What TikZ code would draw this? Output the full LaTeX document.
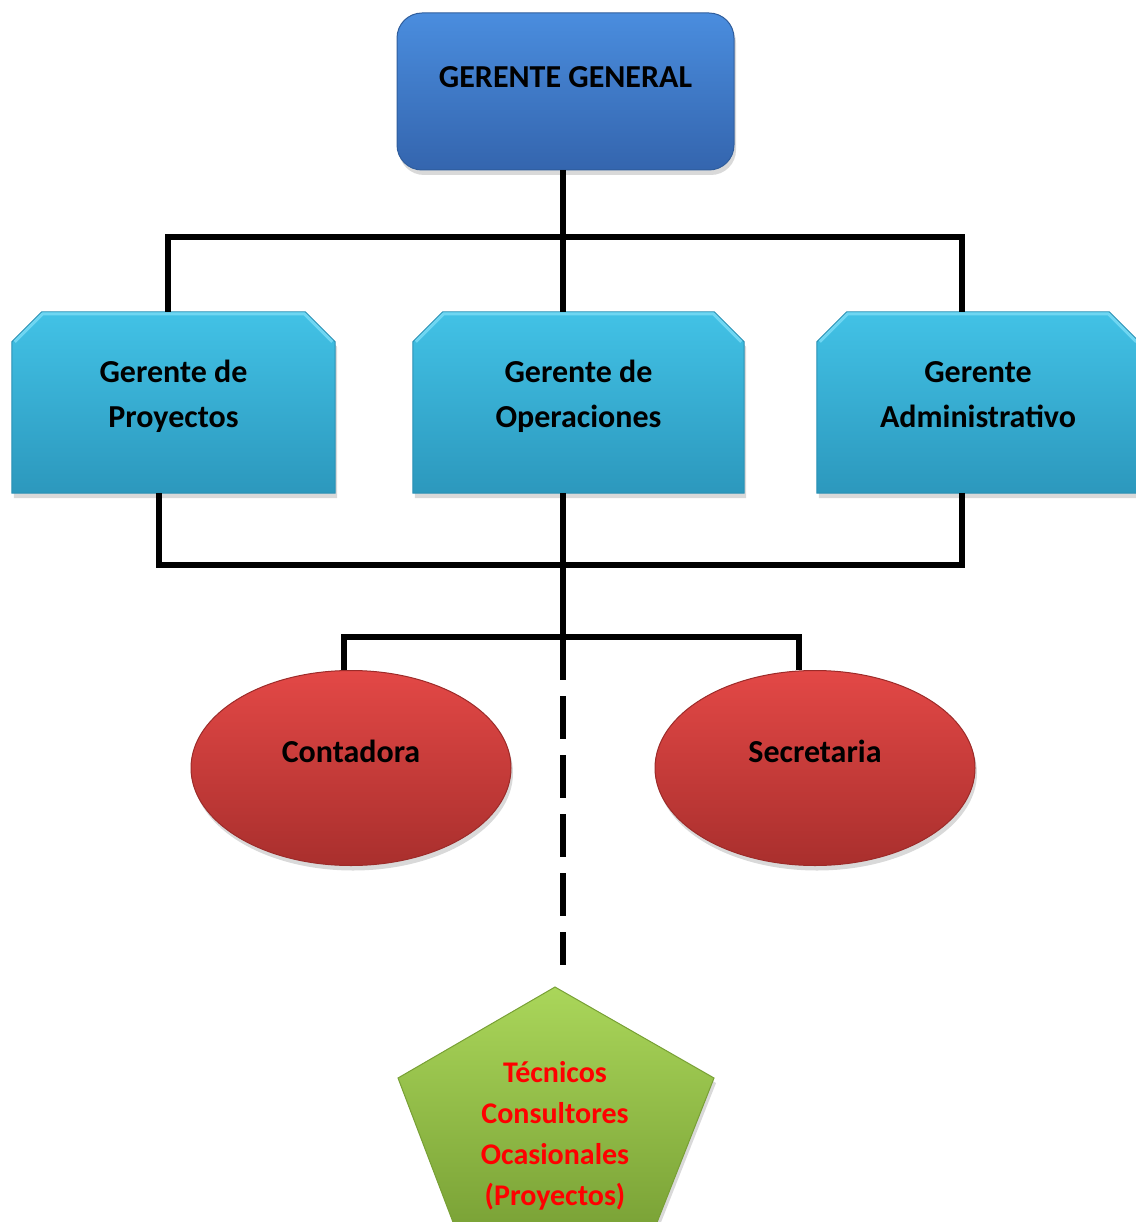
\documentclass[tikz,border=0pt]{standalone}
\usepackage{fontspec}
\setmainfont{Carlito}
\usetikzlibrary{shapes.geometric,shadows}

\definecolor{ggtop}{HTML}{4A8DDE}
\definecolor{ggbot}{HTML}{3465AE}
\definecolor{ggline}{HTML}{2F5D9C}
\definecolor{mgtop}{HTML}{42C2E6}
\definecolor{mgbot}{HTML}{2C98BD}
\definecolor{mgline}{HTML}{2A90B4}
\definecolor{mglight}{HTML}{6FD6F2}
\definecolor{sttop}{HTML}{E34846}
\definecolor{stbot}{HTML}{A92F2D}
\definecolor{stline}{HTML}{9C2B29}
\definecolor{tctop}{HTML}{AAD65A}
\definecolor{tcbot}{HTML}{7AA236}
\definecolor{tcline}{HTML}{78A035}

\begin{document}
\begin{tikzpicture}[
  x=1pt, y=-1pt,
  every node/.style={font=\fontsize{32}{45}\selectfont\bfseries, align=center},
  dshadow/.style={drop shadow={shadow xshift=2pt, shadow yshift=-5pt, opacity=.3}},
  topbox/.style={shape=rectangle, rounded corners=25pt, minimum width=337pt, minimum height=157pt,
    top color=ggtop, bottom color=ggbot, draw=ggline, line width=1pt, dshadow},
  mgrbox/.style={shape=rectangle, inner sep=0pt, minimum width=#1, minimum height=181pt},
  mgrfill/.style={top color=mgtop, bottom color=mgbot, draw=mgline, line width=1pt, dshadow},
  mgredge/.style={draw=mglight, line width=3pt, line join=round},
  staff/.style={shape=ellipse, minimum width=320pt, minimum height=195pt,
    top color=sttop, bottom color=stbot, draw=stline, line width=1pt, dshadow},
  conn/.style={draw=black, line width=5.5pt},
  auxlink/.style={conn, dash pattern=on 43pt off 16pt},
  lbl/.style={text=black},
  redlbl/.style={text=red, font=\fontsize{30}{41}\selectfont\bfseries}
]
\useasboundingbox (0,0) rectangle (1135,1222);

\node[topbox] (gg) at (565.5,91.5) {};
\node[mgrbox=323pt] (gp) at (173.5,402.5) {};
\node[mgrbox=331pt] (go) at (578.5,402.5) {};
\node[mgrbox=322pt] (ga) at (978,402.5) {};
\node[staff] (cont) at (351,768) {};
\node[staff] (secr) at (815,768) {};

\foreach \b in {gp,go,ga} {
  \path[mgrfill] ([xshift=30pt]\b.north west) -- ([xshift=-30pt]\b.north east)
    -- ([yshift=-30pt]\b.north east) -- (\b.south east) -- (\b.south west)
    -- ([yshift=-30pt]\b.north west) -- cycle;
  \draw[mgredge] ([xshift=3pt,yshift=-30pt]\b.north west) -- ([xshift=31pt,yshift=-2pt]\b.north west)
    -- ([xshift=-31pt,yshift=-2pt]\b.north east) -- ([xshift=-3pt,yshift=-30pt]\b.north east);
}

\path[top color=tctop, bottom color=tcbot, draw=tcline, line width=1pt, dshadow]
  (555,987) -- (714,1078) -- (654,1230) -- (456,1230) -- (398,1078) -- cycle;

\node[lbl] (gg-t) at ([yshift=14.5pt]gg.center) {GERENTE GENERAL};
\node[lbl] (gp-t) at ([yshift=6pt]gp.center) {Gerente de\\Proyectos};
\node[lbl] (go-t) at ([yshift=6pt]go.center) {Gerente de\\Operaciones};
\node[lbl] (ga-t) at ([yshift=8pt]ga.center) {Gerente\\Administrativo};
\node[lbl] (cont-t) at ([yshift=16.5pt]cont.center) {Contadora};
\node[lbl] (secr-t) at ([yshift=16.5pt]secr.center) {Secretaria};
\node[redlbl] (tec) at (555,1136) {Técnicos\\Consultores\\Ocasionales\\(Proyectos)};

\coordinate (top-bus) at (563,237);
\coordinate (mid-bus) at (563,565);
\coordinate (low-bus) at (563,637);
\coordinate (tec-end) at (563,965);

\draw[conn] ([xshift=-2.5pt]gg.south) -- (top-bus);
\draw[conn] ([xshift=-5.5pt]gp.north) |- (top-bus) -| ([xshift=-16pt]ga.north);
\draw[conn] (top-bus) -- ([xshift=-15.5pt]go.north);
\draw[conn] ([xshift=-14.5pt]gp.south) |- (mid-bus) -| ([xshift=-16pt]ga.south);
\draw[conn] ([xshift=-15.5pt]go.south) -- (low-bus);
\draw[conn] ([xshift=-7pt]cont.north) |- (low-bus) -| ([xshift=-16pt]secr.north);
\draw[auxlink] (low-bus) -- (tec-end);
\end{tikzpicture}
\end{document}
